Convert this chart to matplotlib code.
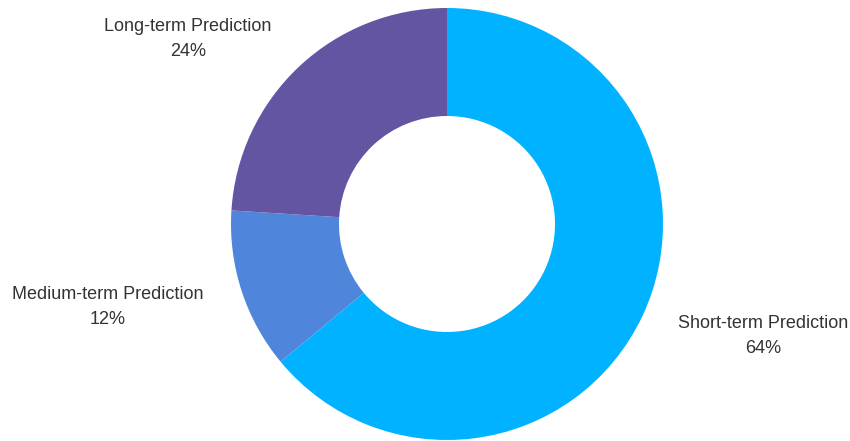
import matplotlib.pyplot as plt

# prediction horizon split
categories = ["Short-term Prediction", "Medium-term Prediction", "Long-term Prediction"]
shares = [64, 12, 24]
colors = ["#00B2FF", "#4F86DB", "#6455A3"]

# label anchor points in pixels (x, y from top)
label_pos = [(763, 336), (108, 307), (188, 39)]

W, H = 850, 441
fig = plt.figure(figsize=(W / 100, H / 100), dpi=100)
ax = fig.add_axes([231 / W, 1 - 440 / H, 432 / W, 432 / H])

ax.pie(
    shares,
    colors=colors,
    startangle=90,
    counterclock=False,
    radius=1,
    wedgeprops=dict(width=0.5, linewidth=0),
)
ax.set_xlim(-1, 1)
ax.set_ylim(-1, 1)
ax.set_aspect("equal")
ax.axis("off")

for name, val, (px, py) in zip(categories, shares, label_pos):
    fig.text(
        px / W, 1 - py / H, f"{name}\n{val}%",
        ha="center", va="center", fontsize=13, color="#333333",
        family="Liberation Sans", linespacing=1.65,
    )

fig.savefig("out.png", dpi=100, facecolor="white")
